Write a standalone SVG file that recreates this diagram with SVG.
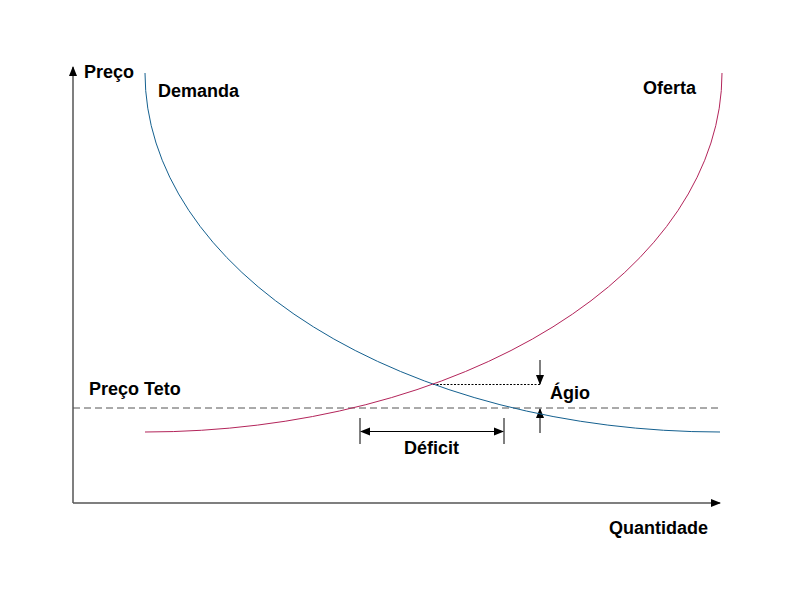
<svg xmlns="http://www.w3.org/2000/svg" width="800" height="600" viewBox="0 0 800 600">
<style>
text{font-family:"Liberation Sans",Arial,sans-serif;font-weight:bold;font-size:18px;fill:#000}
.axis{stroke:#555;stroke-width:1.5;fill:none}
.thin{stroke:#000;stroke-width:1;fill:none}
</style>
<defs>
<marker id="ah" viewBox="0 0 10 10" refX="9" refY="5" markerWidth="10" markerHeight="10" markerUnits="userSpaceOnUse" orient="auto-start-reverse"><path d="M0,1 L10,5 L0,9 Z" fill="#000"/></marker>
</defs>
<rect width="800" height="600" fill="#fff"/>
<g id="connectors">
<path class="axis" d="M73,503 V67" marker-end="url(#ah)"/>
<path class="axis" d="M73,503 H720" marker-end="url(#ah)"/>
<path d="M73,408 H720" stroke="#555" stroke-width="1" stroke-dasharray="7,4" fill="none"/>
<path d="M433,384.5 H540" stroke="#000" stroke-width="1" stroke-dasharray="2,1.5" fill="none"/>
<path class="thin" d="M540,360 V384" marker-end="url(#ah)"/>
<path class="thin" d="M540,433 V409" marker-end="url(#ah)"/>
<path class="thin" d="M360,418 V444 M504,418 V444"/>
<path class="thin" d="M361,431.5 H503" marker-start="url(#ah)" marker-end="url(#ah)"/>
</g>
<g id="demanda">
<path d="M145,73 A575,359 0 0 0 720,432" stroke="#14608f" stroke-width="1" fill="none"/>
<text x="158" y="97">Demanda</text>
</g>
<g id="oferta">
<path d="M145,432 A577,359 0 0 0 722,73" stroke="#b3245a" stroke-width="1" fill="none"/>
<text x="643" y="94">Oferta</text>
</g>
<g id="preco"><text x="84" y="78">Preço</text></g>
<g id="preco-teto"><text x="89" y="395">Preço Teto</text></g>
<g id="quantidade"><text x="609" y="534">Quantidade</text></g>
<g id="agio"><text x="550" y="399">Ágio</text></g>
<g id="deficit"><text x="404" y="454">Déficit</text></g>
</svg>
